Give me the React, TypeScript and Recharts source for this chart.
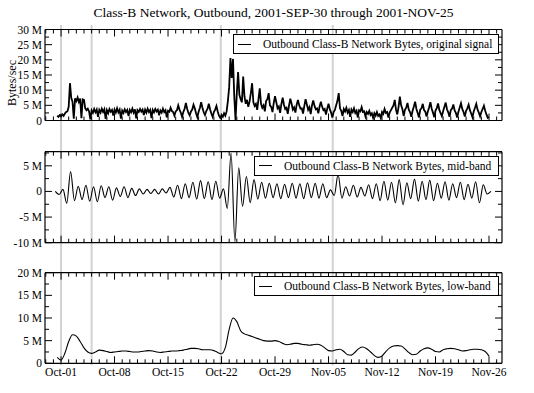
import { Legend, Line, LineChart, ReferenceLine, XAxis, YAxis } from 'recharts';

const FONT = 'Times New Roman, Liberation Serif, Times, serif';

const title = 'Class-B Network, Outbound, 2001-SEP-30 through 2001-NOV-25';
const seriesNames = [
  'Outbound Class-B Network Bytes, original signal',
  'Outbound Class-B Network Bytes, mid-band',
  'Outbound Class-B Network Bytes, low-band',
];

// x axis: days after 2001-10-01 00:00
const weekDays = [0, 7, 14, 21, 28, 35, 42, 49, 56];
const weekLabels = ['Oct-01', 'Oct-08', 'Oct-15', 'Oct-22', 'Oct-29', 'Nov-05', 'Nov-12', 'Nov-19', 'Nov-26'];
const dayTicks = [-2, -1, 0, 1, 2, 3, 4, 5, 6, 7, 8, 9, 10, 11, 12, 13, 14, 15, 16, 17, 18, 19, 20, 21, 22, 23, 24, 25, 26, 27, 28, 29, 30, 31, 32, 33, 34, 35, 36, 37, 38, 39, 40, 41, 42, 43, 44, 45, 46, 47, 48, 49, 50, 51, 52, 53, 54, 55, 56, 57];
const xDomain = [-2.1, 57.7];

// grey event markers (days)
const eventDays = [0, 4, 20.9, 35.55];

// original signal, M bytes/sec, every 4 hours from Sep-30 12:00
const original = [
  1.6, 1.2, 1.8,
  1.4, 2.0, 1.5, 2.3, 2.8, 3.0,
  4.5, 12.3, 7.5, 6.2, 0.6, 7.3,
  6.4, 7.6, 6.1, 7.2, 0.8, 7.0,
  6.8, 4.0, 3.4, 3.9, 3.0, 0.4,
  3.3, 2.5, 3.8, 2.7, 3.6, 1.2,
  3.5, 2.6, 3.9, 2.8, 3.7, 0.5,
  3.4, 2.4, 3.8, 2.9, 3.5, 1.6,
  3.6, 2.6, 4.0, 2.7, 3.6, 0.6,
  3.3, 2.5, 3.7, 2.8, 3.5, 1.5,
  3.5, 2.7, 3.9, 2.6, 3.7, 0.7,
  3.4, 2.8, 3.8, 2.9, 3.6, 1.8,
  3.6, 2.6, 3.9, 2.8, 3.5, 0.8,
  3.5, 2.7, 3.8, 3.0, 3.6, 1.7,
  3.3, 2.6, 3.9, 2.8, 3.4, 1.0,
  3.2, 2.9, 4.2, 3.1, 2.8, 1.6,
  3.0, 3.4, 5.0, 3.6, 2.6, 1.2,
  2.8, 3.8, 5.8, 3.9, 2.5, 1.7,
  3.0, 3.6, 5.2, 4.0, 2.4, 1.1,
  2.9, 4.1, 6.0, 4.2, 2.7, 1.8,
  3.1, 3.8, 5.5, 3.7, 2.3, 1.2,
  2.8, 3.6, 4.8, 3.0, 1.6, 0.9,
  1.8, 1.2, 2.4, 1.6, 3.0, 6.5,
  11.0, 20.6, 14.0, 20.3, 8.0, 0.2,
  9.0, 16.0, 8.5, 7.0, 6.0, 14.5,
  8.0, 5.5, 6.8, 4.5, 6.2, 9.0,
  12.3, 6.0, 4.8, 5.5, 3.5, 7.0,
  10.6, 5.5, 4.2, 5.0, 3.0, 6.5,
  7.0, 9.0, 5.0, 4.5, 2.8, 5.8,
  8.0, 6.0, 4.0, 4.6, 2.5, 5.5,
  7.5, 5.2, 3.8, 4.2, 2.2, 5.0,
  7.2, 5.5, 3.6, 4.3, 2.6, 5.2,
  6.8, 5.0, 3.9, 4.0, 2.3, 4.8,
  7.0, 5.3, 3.5, 4.4, 2.1, 5.0,
  6.6, 4.8, 3.7, 4.0, 2.4, 4.6,
  6.2, 4.5, 3.4, 3.8, 2.0, 3.9,
  5.5, 3.8, 2.6, 1.0, 2.8, 3.5,
  5.0, 6.5, 9.0, 4.0, 3.2, 1.5,
  3.8, 3.0, 4.2, 2.6, 3.5, 1.2,
  3.6, 2.8, 4.0, 2.5, 3.2, 1.0,
  3.4, 3.0, 4.4, 2.8, 3.0, 1.3,
  2.8, 2.2, 3.2, 1.8, 2.4, 0.9,
  2.4, 1.6, 2.8, 1.5, 2.0, 0.8,
  2.8, 2.2, 3.8, 2.5, 2.8, 1.0,
  2.6, 3.4, 4.2, 5.0, 6.8, 3.5,
  2.0, 4.5, 7.9, 5.0, 3.8, 1.5,
  3.5, 4.2, 5.8, 3.6, 2.8, 1.2,
  3.2, 4.6, 6.2, 3.8, 2.5, 1.0,
  3.6, 4.0, 5.5, 3.4, 2.9, 1.3,
  3.0, 4.4, 6.0, 3.9, 2.6, 1.1,
  3.3, 4.1, 5.6, 3.5, 2.4, 1.4,
  3.1, 4.5, 5.9, 3.7, 2.7, 1.2,
  3.4, 3.9, 5.3, 3.3, 2.5, 1.0,
  2.9, 4.3, 5.7, 3.8, 2.8, 1.3,
  3.2, 4.0, 5.2, 3.4, 2.3, 1.1,
  3.0, 4.2, 5.5, 3.6, 2.6, 1.4,
  2.8, 3.8, 4.9, 3.2, 2.0, 0.9,
  1.2,
];

// mid-band, M, every 12 hours from Sep-30 06:00 (peak, trough per day)
const midBand = [
  0.0, -0.6,
  0.4, -2.3, 3.9, -1.8, 1.0, -1.6, 1.2, -1.9, 0.9, -2.0, 1.1, -1.2, 0.9, -1.7,
  0.7, -1.0, 0.9, -1.2, 0.6, -0.8, 0.5, -0.5, 0.4, -0.4, 0.4, -0.5, 0.5, -0.3,
  0.8, -1.1, 1.2, -1.4, 1.5, -1.2, 1.8, -1.5, 2.1, -1.4, 1.9, -1.6, 2.0, -1.3,
  0.5, -3.3, 7.5, -9.8, 4.6, -2.9, 2.9, -2.2, 2.3, -1.5, 1.8, -1.3, 1.6, -1.2,
  1.5, -1.4, 1.4, -1.2, 1.6, -1.3, 1.5, -1.4, 1.7, -1.2, 1.6, -1.3, 1.5, -1.2,
  0.3, -0.8, 3.3, -1.3, 0.9, -0.9, 1.2, -1.1, 0.8, -0.9, 1.3, -1.4, 1.5, -1.8,
  2.0, -1.7, 1.8, -2.2, 2.3, -2.6, 1.7, -1.4, 2.4, -1.9, 2.0, -1.6, 2.2, -1.8,
  1.6, -1.3, 1.9, -1.7, 1.5, -1.2, 1.8, -1.6, 1.4, -1.3, 1.9, -2.2, 1.3, -0.5,
  0.0,
];

// low-band, M, every 12 hours from Sep-30 12:00
const lowBand = [
  1.3,
  0.7, 2.2, 4.8, 6.3, 6.0, 4.8, 3.4, 2.5, 2.2, 2.5, 2.9, 2.8, 2.6, 2.4,
  2.5, 2.6, 2.7, 2.7, 2.6, 2.5, 2.5, 2.6, 2.7, 2.8, 2.7, 2.5, 2.4, 2.5,
  2.6, 2.7, 2.7, 2.8, 2.9, 3.1, 3.3, 3.3, 3.2, 3.0, 3.0, 3.0, 2.8, 2.4,
  2.1, 3.5, 7.5, 10.0, 9.2, 7.2, 6.5, 6.2, 5.9, 5.6, 5.3, 5.0, 4.9, 4.9,
  5.0, 4.8, 4.4, 4.1, 4.2, 4.4, 4.4, 4.2, 4.1, 4.0, 4.1, 4.2, 4.0, 3.4,
  2.8, 2.7, 3.0, 3.1, 2.6, 1.9, 1.8, 2.5, 3.3, 3.6, 3.2, 2.5, 1.7, 1.3,
  1.6, 2.6, 3.4, 3.8, 3.9, 3.8, 3.2, 2.4, 1.9, 2.0, 2.7, 3.2, 3.4, 3.1,
  2.6, 2.5, 3.0, 3.2, 3.3, 3.2, 3.0, 2.7, 2.8, 3.0, 3.1, 3.1, 3.0, 2.6,
  1.6,
];

const origTicks = [0, 2.5, 5, 7.5, 10, 12.5, 15, 17.5, 20, 22.5, 25, 27.5, 30];
const midTicks = [-10, -7.5, -5, -2.5, 0, 2.5, 5, 7.5];
const lowTicks = [0, 2.5, 5, 7.5, 10, 12.5, 15, 17.5, 20];

const origData = original.map((v, i) => ({ d: -0.5 + i / 6, v }));
const midData = midBand.map((v, i) => ({ d: -0.75 + i * 0.5, v }));
const lowData = lowBand.map((v, i) => ({ d: -0.5 + i * 0.5, v }));

const fmtM = (v: number) => (v === 0 ? '0' : `${v} M`);
const isMajorY = (v: number) => v % 5 === 0;
const isMajorX = (v: number) => weekDays.includes(v);

const LeftTick = ({ x, y, payload }: any) => {
  const major = isMajorY(payload.value);
  return (
    <g>
      <line x1={x} x2={x + (major ? 7 : 4)} y1={y} y2={y} stroke="#000" />
      {major && (
        <text x={x - 3} y={y} dy="0.35em" textAnchor="end" fontSize={11.5} fontFamily={FONT} fill="#000">
          {fmtM(payload.value)}
        </text>
      )}
    </g>
  );
};

const RightTick = ({ x, y, payload }: any) => (
  <line x1={x} x2={x - (isMajorY(payload.value) ? 7 : 4)} y1={y} y2={y} stroke="#000" />
);

const TopTick = ({ x, y, payload }: any) => (
  <line x1={x} x2={x} y1={y} y2={y + (isMajorX(payload.value) ? 7 : 4)} stroke="#000" />
);

const BottomTick = ({ x, y, payload, labels }: any) => {
  const major = isMajorX(payload.value);
  return (
    <g>
      <line x1={x} x2={x} y1={y} y2={y - (major ? 7 : 4)} stroke="#000" />
      {labels && major && (
        <text x={x} y={y + 13} textAnchor="middle" fontSize={11.5} fontFamily={FONT} fill="#000">
          {weekLabels[weekDays.indexOf(payload.value)]}
        </text>
      )}
    </g>
  );
};

const LegendBox = ({ payload }: any) => (
  <div
    style={{
      border: '1px solid #000',
      background: '#fff',
      height: 20,
      boxSizing: 'border-box',
      display: 'flex',
      alignItems: 'center',
      paddingLeft: 4,
      fontFamily: FONT,
      fontSize: 11.5,
      color: '#000',
      whiteSpace: 'nowrap',
    }}
  >
    {(payload || []).map((p: any) => (
      <span key={p.value} style={{ display: 'flex', alignItems: 'center' }}>
        <svg width={13} height={3}>
          <line x1={0} x2={13} y1={1.5} y2={1.5} stroke="#000" />
        </svg>
        <span style={{ marginLeft: 12 }}>{p.value}</span>
      </span>
    ))}
  </div>
);

const YLabel = ({ viewBox }: any) => {
  const cx = viewBox.x + 12;
  const cy = viewBox.y + viewBox.height / 2 + 8;
  return (
    <text x={cx} y={cy} transform={`rotate(-90 ${cx} ${cy})`} textAnchor="middle" dy="0.35em" fontSize={12} fontFamily={FONT} fill="#000">
      Bytes/sec
    </text>
  );
};

interface PanelProps {
  data: Array<{ d: number; v: number }>;
  name: string;
  height: number;
  margin: { top: number; right: number; bottom: number; left: number };
  yDomain: number[];
  yTicks: number[];
  eventSpan: number[];
  legendPos: { left: number; top: number; width: number };
  bottomHeight: number;
  labels?: boolean;
  yLabel?: boolean;
  curve: 'linear' | 'monotone';
  strokeWidth: number;
}

const frame = { stroke: '#000', strokeWidth: 1.2 };

function Panel(p: PanelProps) {
  return (
    <LineChart width={534} height={p.height} data={p.data} margin={p.margin}>
      <XAxis
        xAxisId="b"
        type="number"
        dataKey="d"
        domain={xDomain}
        allowDataOverflow
        ticks={dayTicks}
        interval={0}
        tickSize={0}
        tickMargin={0}
        tickLine={false}
        axisLine={frame}
        height={p.bottomHeight}
        tick={(t: any) => <BottomTick {...t} labels={p.labels} />}
      />
      <XAxis
        xAxisId="t"
        orientation="top"
        type="number"
        dataKey="d"
        domain={xDomain}
        allowDataOverflow
        ticks={dayTicks}
        interval={0}
        tickSize={0}
        tickMargin={0}
        tickLine={false}
        axisLine={frame}
        height={10}
        tick={TopTick}
      />
      <YAxis
        yAxisId="l"
        type="number"
        domain={p.yDomain}
        allowDataOverflow
        ticks={p.yTicks}
        interval={0}
        tickSize={0}
        tickMargin={0}
        tickLine={false}
        axisLine={frame}
        width={45}
        tick={LeftTick}
        label={p.yLabel ? <YLabel /> : undefined}
      />
      <YAxis
        yAxisId="r"
        orientation="right"
        type="number"
        domain={p.yDomain}
        allowDataOverflow
        ticks={p.yTicks}
        interval={0}
        tickSize={0}
        tickMargin={0}
        tickLine={false}
        axisLine={frame}
        width={32}
        tick={RightTick}
      />
      {eventDays.map((d) => (
        <ReferenceLine
          key={d}
          xAxisId="b"
          yAxisId="l"
          segment={[
            { x: d, y: p.eventSpan[0] },
            { x: d, y: p.eventSpan[1] },
          ]}
          ifOverflow="visible"
          stroke="#d2d2d2"
          strokeWidth={2}
        />
      ))}
      <Legend
        content={LegendBox}
        layout="horizontal"
        verticalAlign="middle"
        align="center"
        wrapperStyle={{ left: p.legendPos.left, top: p.legendPos.top, width: p.legendPos.width, height: 20 }}
      />
      <Line
        xAxisId="b"
        yAxisId="l"
        dataKey="v"
        name={p.name}
        type={p.curve}
        stroke="#000"
        strokeWidth={p.strokeWidth}
        dot={false}
        isAnimationActive={false}
      />
    </LineChart>
  );
}

export default function App() {
  return (
    <div style={{ position: 'absolute', left: 0, top: 0, width: 534, height: 393, background: '#fff', fontFamily: FONT }}>
      <div style={{ position: 'absolute', left: 45, top: 5, width: 457, textAlign: 'center', fontSize: 13.5, color: '#000' }}>
        {title}
      </div>
      <div style={{ position: 'absolute', left: 0, top: 0 }}>
        <Panel
          data={origData}
          name={seriesNames[0]}
          height={137}
          margin={{ top: 19.5, right: 0, bottom: 6.5, left: 0 }}
          yDomain={[0, 30]}
          yTicks={origTicks}
          eventSpan={[31.5, -5.6]}
          legendPos={{ left: 233, top: 34, width: 266 }}
          bottomHeight={10}
          yLabel
          curve="linear"
          strokeWidth={1.8}
        />
      </div>
      <div style={{ position: 'absolute', left: 0, top: 137 }}>
        <Panel
          data={midData}
          name={seriesNames[1]}
          height={121}
          margin={{ top: 4.7, right: 0, bottom: 5.3, left: 0 }}
          yDomain={[-10, 7.75]}
          yTicks={midTicks}
          eventSpan={[10.7, -13.1]}
          legendPos={{ left: 254, top: 18.5, width: 245 }}
          bottomHeight={10}
          curve="monotone"
          strokeWidth={1.1}
        />
      </div>
      <div style={{ position: 'absolute', left: 0, top: 258 }}>
        <Panel
          data={lowData}
          name={seriesNames[2]}
          height={135}
          margin={{ top: 4.7, right: 0, bottom: 4.7, left: 0 }}
          yDomain={[0, 20]}
          yTicks={lowTicks}
          eventSpan={[23.4, -0.45]}
          legendPos={{ left: 254, top: 18, width: 245 }}
          bottomHeight={25}
          labels
          curve="monotone"
          strokeWidth={1.1}
        />
      </div>
    </div>
  );
}
